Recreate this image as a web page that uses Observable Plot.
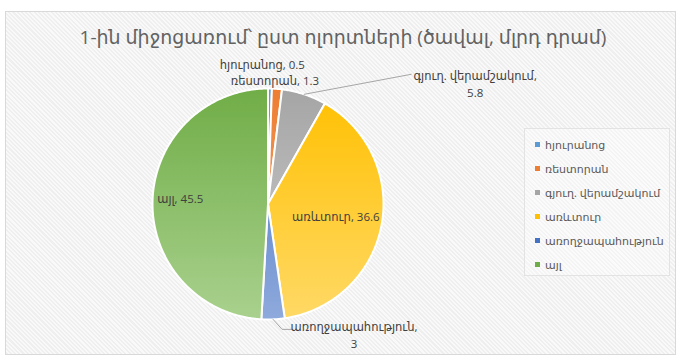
<!DOCTYPE html>
<html>
<head>
<meta charset="utf-8">
<script src="https://cdn.jsdelivr.net/npm/d3@7"></script>
<script src="https://cdn.jsdelivr.net/npm/@observablehq/plot@0.6"></script>
<style>
  html, body { margin: 0; padding: 0; background: #ffffff; }
  body { width: 686px; height: 362px; position: relative; overflow: hidden;
         font-family: "Open Sans", "DejaVu Sans", sans-serif; }
  #frame { position: absolute; left: 5px; top: 11px; width: 669px; height: 342px;
           border: 1px solid #d9d9d9;
           background: repeating-linear-gradient(45deg, #efefef 0px, #efefef 1.5px, #f9f9f9 1.5px, #f9f9f9 3px); }
  #title { position: absolute; left: 0; width: 686px; top: 24px; text-align: center;
           font-size: 19px; color: #626262; white-space: nowrap; }
  #legend { position: absolute; left: 524px; top: 128px; width: 146px; height: 148px;
            border: 1px solid #e3e3e3; background: rgba(255,255,255,0.35); box-sizing: border-box; }
  .item { position: absolute; left: 10px; font-size: 11px; color: #595959; white-space: nowrap; line-height: 14px; }
  .sw { display: inline-block; width: 5px; height: 5px; margin-right: 5px; vertical-align: 2px; }
  #chart { position: absolute; left: 0; top: 0; }
</style>
</head>
<body>
<div id="frame"></div>
<div id="title">1-ին միջոցառում՝ ըստ ոլորտների (ծավալ, մլրդ դրամ)</div>
<div id="chart"></div>
<div id="legend"></div>
<script>
// ---- data ----
const categories = ["հյուրանոց", "ռեստորան", "գյուղ. վերամշակում", "առևտուր", "առողջապահություն", "այլ"];
const values = [0.5, 1.3, 5.8, 36.6, 3, 45.5];
const valueLabels = ["0.5", "1.3", "5.8", "36.6", "3", "45.5"];
const colors = ["#5b9bd5", "#ed7d31", "#a5a5a5", "#ffc000", "#4472c4", "#70ad47"];
const lightColors = ["#9dc3e6", "#f4b183", "#cfcfcf", "#ffd966", "#8faadc", "#a9d18e"];

// ---- layout (not data) ----
const W = 686, H = 362;
const CX = 267.5, CY = 203.5, R = 115.5;
// label placement: radial factor k at mid-angle, then pixel offsets; optional leader elbows (pixel offsets from slice edge)
const labelLayout = [
  {k: 1.2, dx: -8, dy: -2, multiline: false},
  {k: 1.1, dx: -3, dy: 2, multiline: false},
  {k: 1.0, dx: 171, dy: -11, multiline: true, leader: [[107, -20]]},
  {k: 0.58, dx: 2, dy: -1, multiline: false},
  {k: 1.0, dx: 81, dy: 15, multiline: true, leader: [[9, 10], [20, 10]]},
  {k: 0.76, dx: 0, dy: -4, multiline: false}
];

const arcs = d3.pie().sort(null).startAngle(0).endAngle(2 * Math.PI)(values);
const polar = (a, k) => ({x: Math.sin(a) * k, y: -Math.cos(a) * k});

const slicePolys = arcs.map((a, i) => {
  const n = Math.max(2, Math.ceil((a.endAngle - a.startAngle) / 0.01));
  const pts = [{x: 0, y: 0}];
  for (let j = 0; j <= n; j++) {
    const t = a.startAngle + (a.endAngle - a.startAngle) * j / n;
    pts.push(polar(t, 1));
  }
  pts.push({x: 0, y: 0});
  return pts;
});

const labels = arcs.map((a, i) => {
  const L = labelLayout[i];
  const mid = (a.startAngle + a.endAngle) / 2;
  const p = polar(mid, L.k);
  return {
    x: p.x + L.dx / R,
    y: p.y + L.dy / R,
    text: categories[i] + (L.multiline ? ",\n" : ", ") + valueLabels[i]
  };
});

const leaders = [];
arcs.forEach((a, i) => {
  const L = labelLayout[i];
  if (!L.leader) return;
  const mid = (a.startAngle + a.endAngle) / 2;
  const e = polar(mid, 1);
  leaders.push({id: i, x: e.x, y: e.y});
  L.leader.forEach(([dx, dy]) => leaders.push({id: i, x: e.x + dx / R, y: e.y + dy / R}));
});

const marks = slicePolys.map((pts, i) =>
  Plot.line(pts, {x: "x", y: "y", fill: `url(#grad${i})`, stroke: "#ffffff", strokeWidth: 2, strokeLinejoin: "round"})
);
marks.push(Plot.line(leaders, {x: "x", y: "y", z: "id", stroke: "#a6a6a6", strokeWidth: 1}));
marks.push(Plot.text(labels, {x: "x", y: "y", text: "text", fontSize: 11.5, fill: "#404040", lineHeight: 1.45}));

const plot = Plot.plot({
  width: W, height: H,
  margin: 0,
  x: {domain: [-CX / R, (W - CX) / R], range: [0, W], axis: null},
  y: {domain: [-CY / R, (H - CY) / R], range: [0, H], axis: null},
  style: {background: "transparent", fontFamily: "'Open Sans', 'DejaVu Sans', sans-serif"},
  marks
});

const ys = plot.scale("y");
const defs = d3.select(plot).insert("defs", ":first-child");
colors.forEach((c, i) => {
  const g = defs.append("linearGradient").attr("id", `grad${i}`)
    .attr("gradientUnits", "userSpaceOnUse")
    .attr("x1", 0).attr("x2", 0)
    .attr("y1", ys.apply(-1)).attr("y2", ys.apply(1));
  g.append("stop").attr("offset", "0%").attr("stop-color", c);
  g.append("stop").attr("offset", "100%").attr("stop-color", lightColors[i]);
});
document.getElementById("chart").appendChild(plot);

// legend
const legend = document.getElementById("legend");
categories.forEach((c, i) => {
  const d = document.createElement("div");
  d.className = "item";
  d.style.top = (9 + i * 24) + "px";
  d.innerHTML = `<span class="sw" style="background:${colors[i]}"></span>${c}`;
  legend.appendChild(d);
});
</script>
</body>
</html>
